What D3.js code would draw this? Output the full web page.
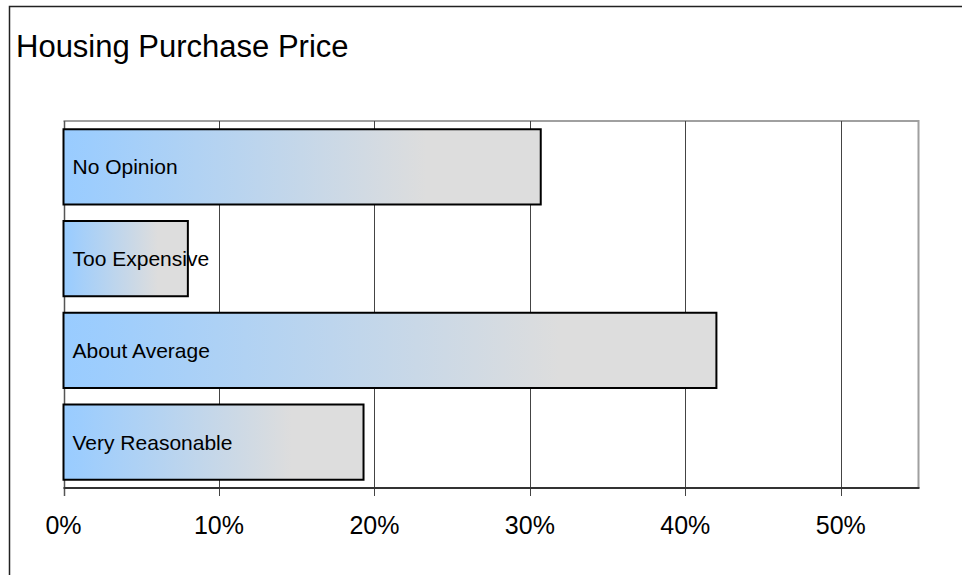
<!DOCTYPE html>
<html>
<head>
<meta charset="utf-8">
<script src="https://cdn.jsdelivr.net/npm/d3@7"></script>
<style>
  html, body { margin: 0; padding: 0; background: #fff; }
  svg { display: block; font-family: "Liberation Sans", Arial, sans-serif; }
</style>
</head>
<body>
<svg id="chart" width="962" height="575"></svg>
<script>
const title = "Housing Purchase Price";
const categories = ["No Opinion", "Too Expensive", "About Average", "Very Reasonable"];
const values = [0.307, 0.080, 0.420, 0.193];
const tickValues = [0, 0.1, 0.2, 0.3, 0.4, 0.5];
const tickLabels = ["0%", "10%", "20%", "30%", "40%", "50%"];

const svg = d3.select("#chart");
const W = 962, H = 575;
const plot = { left: 63.5, right: 918.5, top: 121, bottom: 488 };

// outer frame (extends beyond the image on right and bottom)
svg.append("rect")
  .attr("x", 9.5).attr("y", 6.5)
  .attr("width", W + 10).attr("height", H + 10)
  .attr("fill", "none").attr("stroke", "#222").attr("stroke-width", 1.5);

svg.append("text")
  .attr("x", 16).attr("y", 57)
  .attr("font-size", 31).attr("fill", "#000")
  .text(title);

const x = d3.scaleLinear().domain([0, 0.55]).range([plot.left, plot.right]);
const y = d3.scaleBand().domain(categories).range([plot.top, plot.bottom])
  .paddingInner(0.18).paddingOuter(0.09);

// gradient
const defs = svg.append("defs");
const grad = defs.append("linearGradient").attr("id", "barGrad")
  .attr("x1", "0%").attr("x2", "100%").attr("y1", "0%").attr("y2", "0%");
grad.append("stop").attr("offset", "0%").attr("stop-color", "#99CCFF");
grad.append("stop").attr("offset", "6%").attr("stop-color", "#9DCDFD");
grad.append("stop").attr("offset", "76%").attr("stop-color", "#DDDDDD");
grad.append("stop").attr("offset", "100%").attr("stop-color", "#DDDDDD");

// plot frame top & right
svg.append("path")
  .attr("d", `M${plot.left},${plot.top}H${plot.right}V${plot.bottom}`)
  .attr("fill", "none").attr("stroke", "#A0A0A0").attr("stroke-width", 2);

// gridlines + ticks
svg.append("g").selectAll("line").data(tickValues).join("line")
  .attr("x1", d => Math.round(x(d)) + 0.5).attr("x2", d => Math.round(x(d)) + 0.5)
  .attr("y1", plot.top).attr("y2", plot.bottom + 8)
  .attr("stroke", "#444").attr("stroke-width", 1);

// left axis line
svg.append("line")
  .attr("x1", Math.round(x(0)) + 0.5).attr("x2", Math.round(x(0)) + 0.5)
  .attr("y1", plot.top).attr("y2", plot.bottom + 8)
  .attr("stroke", "#555").attr("stroke-width", 1.5);

// bottom axis line
svg.append("line")
  .attr("x1", plot.left).attr("x2", plot.right + 1)
  .attr("y1", plot.bottom).attr("y2", plot.bottom)
  .attr("stroke", "#333").attr("stroke-width", 2);

// bars
const bars = svg.append("g").selectAll("g").data(categories).join("g");
bars.append("rect")
  .attr("x", x(0))
  .attr("y", d => y(d))
  .attr("width", (d, i) => x(values[i]) - x(0))
  .attr("height", y.bandwidth())
  .attr("fill", "url(#barGrad)")
  .attr("stroke", "#000").attr("stroke-width", 2);
bars.append("text")
  .attr("x", x(0) + 9)
  .attr("y", d => y(d) + y.bandwidth() / 2 + 7.5)
  .attr("font-size", 21).attr("fill", "#000")
  .text(d => d);

// tick labels
svg.append("g").selectAll("text").data(tickValues).join("text")
  .attr("x", d => x(d)).attr("y", 534)
  .attr("text-anchor", "middle").attr("font-size", 25).attr("fill", "#000")
  .text((d, i) => tickLabels[i]);
</script>
</body>
</html>
